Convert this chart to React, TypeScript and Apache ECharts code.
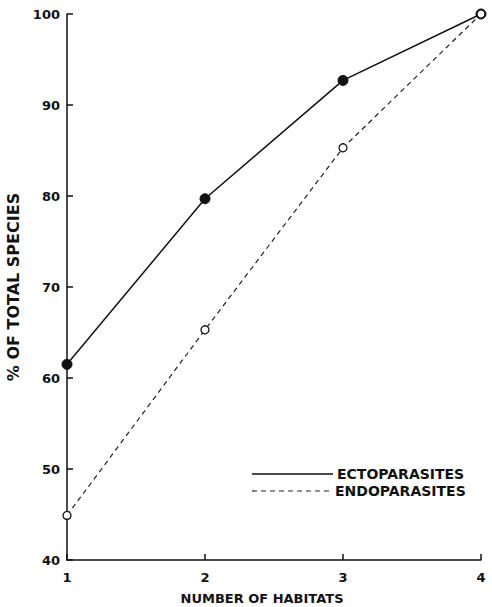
import React, { useEffect, useRef } from "react";
import * as echarts from "echarts";

const habitats = [1, 2, 3, 4];
const ectoparasites = [61.5, 79.7, 92.7, 100];
const endoparasites = [44.9, 65.3, 85.3, 100];
const yTicks = [40, 50, 60, 70, 80, 90, 100];

export default function App() {
  const ref = useRef<HTMLDivElement>(null);
  useEffect(() => {
    if (!ref.current) return;
    const chart = echarts.init(ref.current, null, { renderer: "svg" });
    const font = "DejaVu Sans";
    const txt = { fontFamily: font, fontSize: 13, color: "#111", fontWeight: "bold" as const };
    chart.setOption({
      animation: false,
      backgroundColor: "#fff",
      grid: { left: 67, right: 11, top: 14, bottom: 47, outerBoundsMode: "none", containLabel: false },
      xAxis: {
        type: "value",
        min: 1,
        max: 4,
        interval: 1,
        name: "NUMBER OF HABITATS",
        nameLocation: "middle",
        nameGap: 32,
        nameTextStyle: { ...txt, fontSize: 13, padding: [0, 24, 0, 0] },
        axisLine: { lineStyle: { color: "#111", width: 1.5 } },
        axisTick: { inside: true, length: 6, lineStyle: { color: "#111", width: 1.5 } },
        axisLabel: { ...txt, margin: 11 },
        splitLine: { show: false },
      },
      yAxis: {
        type: "value",
        min: 40,
        max: 100,
        interval: 10,
        name: "% OF TOTAL SPECIES",
        nameLocation: "middle",
        nameGap: 38,
        nameRotate: 90,
        nameTextStyle: { ...txt, fontSize: 16 },
        axisLine: { lineStyle: { color: "#111", width: 1.5 } },
        axisTick: { inside: true, length: 6, lineStyle: { color: "#111", width: 1.5 } },
        axisLabel: { ...txt, margin: 7, formatter: (v: number) => (yTicks.includes(v) ? String(v) : "") },
        splitLine: { show: false },
      },
      series: [
        {
          name: "ECTOPARASITES",
          type: "line",
          data: habitats.map((h, i) => [h, ectoparasites[i]]),
          symbol: "circle",
          symbolSize: 10,
          lineStyle: { color: "#111", width: 1.5 },
          itemStyle: { color: "#111", borderColor: "#111" },
        },
        {
          name: "ENDOPARASITES",
          type: "line",
          data: habitats.map((h, i) => [h, endoparasites[i]]),
          symbol: "circle",
          symbolSize: 8,
          showAllSymbol: true,
          lineStyle: { color: "#222", width: 1.2, type: [5, 4] },
          itemStyle: { color: "#fff", borderColor: "#111", borderWidth: 1.3 },
        },
      ],
      graphic: [
        { type: "line", shape: { x1: 252, y1: 474, x2: 333, y2: 474 }, style: { stroke: "#111", lineWidth: 1.5 } },
        { type: "text", x: 337, y: 474, style: { text: "ECTOPARASITES", font: `bold 14px "${font}"`, fill: "#111", textVerticalAlign: "middle" } },
        { type: "line", shape: { x1: 252, y1: 491, x2: 333, y2: 491 }, style: { stroke: "#222", lineWidth: 1.2, lineDash: [5, 4] } },
        { type: "text", x: 335, y: 491, style: { text: "ENDOPARASITES", font: `bold 14px "${font}"`, fill: "#111", textVerticalAlign: "middle" } },
      ],
    });
    return () => chart.dispose();
  }, []);
  return <div ref={ref} style={{ width: 492, height: 607, position: "absolute", left: 0, top: 0 }} />;
}
